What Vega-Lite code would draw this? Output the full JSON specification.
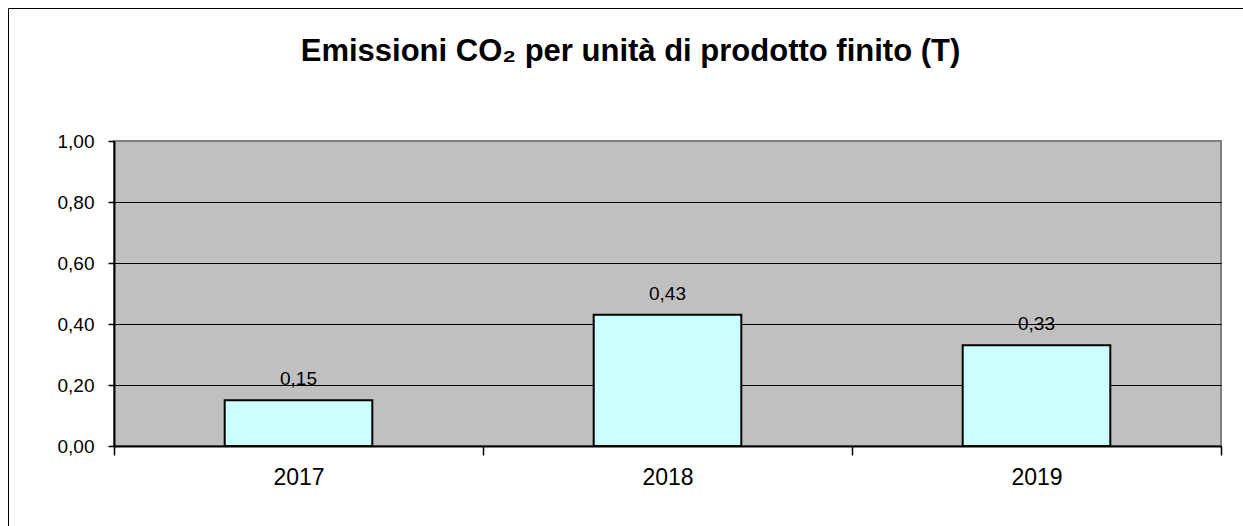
{
  "$schema": "https://vega.github.io/schema/vega-lite/v6.json",
  "width": 1107,
  "height": 305,
  "autosize": {"type": "none"},
  "padding": {"left": 114, "top": 141, "right": 22, "bottom": 80},
  "background": "white",
  "config": {
    "font": "Liberation Sans",
    "locale": {"number": {"decimal": ",", "thousands": ".", "grouping": [3], "currency": ["", " €"]}},
    "view": {"fill": "#c0c0c0", "stroke": "#808080", "strokeWidth": 2}
  },
  "title": {
    "text": "Emissioni CO₂ per unità di prodotto finito (T)",
    "fontSize": 31,
    "fontWeight": "bold",
    "color": "#000000",
    "anchor": "middle",
    "dx": -37,
    "offset": -60
  },
  "data": {
    "values": [
      {"anno": "2017", "valore": 0.15},
      {"anno": "2018", "valore": 0.43},
      {"anno": "2019", "valore": 0.33}
    ]
  },
  "encoding": {
    "x": {
      "field": "anno",
      "type": "nominal",
      "title": null,
      "scale": {"paddingInner": 0, "paddingOuter": 0},
      "axis": {
        "labelAngle": 0,
        "labelFontSize": 23,
        "labelColor": "#000000",
        "tickBand": "extent",
        "tickSize": 9,
        "tickColor": "#000000",
        "tickWidth": 1.5,
        "domainColor": "#000000",
        "domainWidth": 2,
        "labelPadding": 11,
        "grid": false
      }
    },
    "y": {
      "field": "valore",
      "type": "quantitative",
      "title": null,
      "scale": {"domain": [0, 1], "nice": false},
      "axis": {
        "values": [0, 0.2, 0.4, 0.6, 0.8, 1],
        "format": ".2f",
        "labelFontSize": 19,
        "labelColor": "#000000",
        "labelPadding": 14,
        "tickSize": 6,
        "tickColor": "#000000",
        "tickWidth": 1.5,
        "domainColor": "#000000",
        "domainWidth": 2,
        "gridColor": {"condition": {"test": "datum.value >= 1", "value": "#808080"}, "value": "#000000"},
        "gridWidth": 1,
        "gridOpacity": 1
      }
    }
  },
  "layer": [
    {
      "mark": {
        "type": "bar",
        "fill": "#ccffff",
        "stroke": "#000000",
        "strokeWidth": 2,
        "width": {"band": 0.4}
      }
    },
    {
      "mark": {
        "type": "text",
        "baseline": "alphabetic",
        "dy": -15,
        "fontSize": 19
      },
      "encoding": {
        "text": {"field": "valore", "type": "quantitative", "format": ".2f"},
        "color": {
          "datum": "cornice",
          "scale": {"range": ["#000000"]},
          "legend": {
            "orient": "none",
            "legendX": -106,
            "legendY": -133,
            "strokeColor": "#000000",
            "fillColor": null,
            "padding": 620,
            "title": null,
            "symbolOpacity": 0,
            "labelExpr": "''"
          }
        }
      }
    }
  ]
}
